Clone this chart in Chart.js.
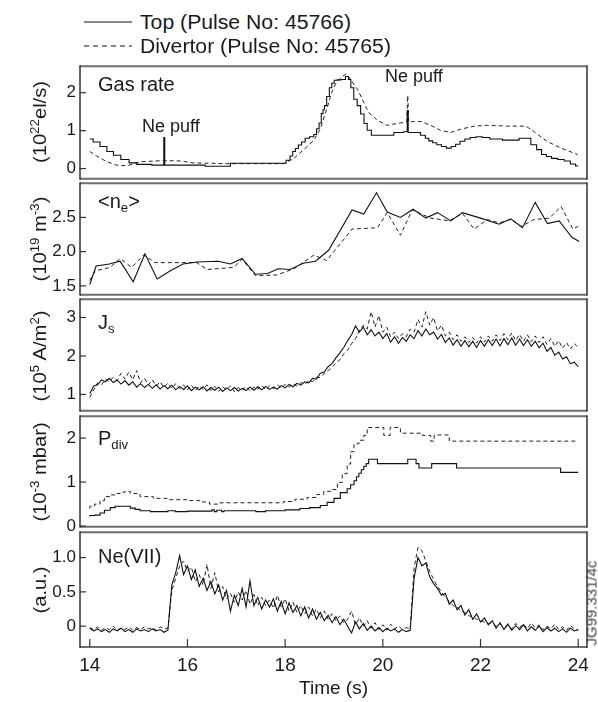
<!DOCTYPE html>
<html><head><meta charset="utf-8">
<script src="https://cdn.jsdelivr.net/npm/chart.js@4.4.1/dist/chart.umd.min.js"></script>
<style>
html,body{margin:0;padding:0;background:#fff;}
#wrap{position:relative;width:598px;height:702px;overflow:hidden;font-family:"Liberation Sans",Arial,Helvetica,sans-serif;color:#1a1a1a;}
.pane{position:absolute;left:0;width:598px;}
.txt{position:absolute;white-space:nowrap;line-height:1;transform:translateY(-50%);z-index:5;}
.leg{position:absolute;white-space:nowrap;line-height:1;transform:translateY(-50%) scaleX(1.06);transform-origin:0 50%;z-index:5;font-size:20px;}
.ytitle{position:absolute;white-space:nowrap;line-height:1;transform:translate(-50%,-50%) rotate(-90deg) scaleX(1.12);z-index:5;font-size:18px;}
sup{font-size:0.66em;vertical-align:0.6em;line-height:0;}
sub{font-size:0.66em;vertical-align:-0.3em;line-height:0;}
svg{position:absolute;z-index:5;overflow:visible;}
</style></head><body>
<div id="wrap">
  <svg style="left:84px;top:22px" width="48" height="2"><line x1="0" y1="0" x2="48" y2="0" stroke="#111" stroke-width="1.2"/></svg>
  <div class="leg" style="left:140px;top:22px">Top (Pulse No: 45766)</div>
  <svg style="left:84px;top:46px" width="48" height="2"><line x1="0" y1="0" x2="48" y2="0" stroke="#111" stroke-width="1.2" stroke-dasharray="5,4"/></svg>
  <div class="leg" style="left:140px;top:46px">Divertor (Pulse No: 45765)</div>

  <div class="pane" style="top:52px;height:141px"><canvas id="c1"></canvas></div>
  <div class="pane" style="top:169px;height:140px"><canvas id="c2"></canvas></div>
  <div class="pane" style="top:285px;height:140px"><canvas id="c3"></canvas></div>
  <div class="pane" style="top:402px;height:139px"><canvas id="c4"></canvas></div>
  <div class="pane" style="top:518px;height:184px"><canvas id="c5"></canvas></div>

  <div class="txt" style="left:98px;top:84px;font-size:20px">Gas rate</div>
  <div class="txt" style="left:142px;top:126px;font-size:18px">Ne puff</div>
  <div class="txt" style="left:385px;top:76px;font-size:18px">Ne puff</div>
  <div class="txt" style="left:98px;top:201px;font-size:20px">&lt;n<sub>e</sub>&gt;</div>
  <div class="txt" style="left:98px;top:322px;font-size:20px">J<sub>s</sub></div>
  <div class="txt" style="left:98px;top:438px;font-size:20px">P<sub>div</sub></div>
  <div class="txt" style="left:98px;top:556px;font-size:20px">Ne(VII)</div>

  <div class="ytitle" style="left:40px;top:122px">(10<sup>22</sup>el/s)</div>
  <div class="ytitle" style="left:40px;top:239px">(10<sup>19</sup> m<sup>-3</sup>)</div>
  <div class="ytitle" style="left:40px;top:356px">(10<sup>5</sup> A/m<sup>2</sup>)</div>
  <div class="ytitle" style="left:40px;top:472px">(10<sup>-3</sup> mbar)</div>
  <div class="ytitle" style="left:40px;top:590px">(a.u.)</div>
  <div class="ytitle" style="left:591px;top:603px;font-size:15px;color:#444;transform:translate(-50%,-50%) rotate(-90deg)">JG99.331/4c</div>
</div>
<script>
const FONT = '"Liberation Sans", Arial, Helvetica, sans-serif';

// ---- tick values ----
const timeTicks = [14, 16, 18, 20, 22, 24];
const gasTicks = [0, 1, 2];
const gasTickLabels = ['0', '1', '2'];
const neTicks = [1.5, 2.0, 2.5];
const neTickLabels = ['1.5', '2.0', '2.5'];
const jsTicks = [1, 2, 3];
const jsTickLabels = ['1', '2', '3'];
const pdivTicks = [0, 1, 2];
const pdivTickLabels = ['0', '1', '2'];
const ne7Ticks = [0, 0.5, 1.0];
const ne7TickLabels = ['0', '0.5', '1.0'];

// ---- Gas rate (10^22 el/s) ----
const gasTopTime = [14.00,14.14,14.28,14.42,14.55,14.72,14.89,15.03,15.51,15.52,15.55,16.26,16.47,16.81,16.95,17.97,18.07,18.13,18.18,18.24,18.30,18.37,18.45,18.55,18.62,18.67,18.72,18.76,18.79,18.82,18.88,18.93,18.98,19.03,19.10,19.20,19.27,19.32,19.37,19.44,19.51,19.58,19.65,19.71,19.82,20.09,20.36,20.49,20.51,20.53,20.70,20.84,20.90,20.98,21.06,21.15,21.25,21.35,21.45,21.53,21.63,21.73,21.85,21.97,22.10,22.28,22.62,22.96,23.10,23.20,23.30,23.40,23.51,23.65,23.78,23.90,23.99];
const gasTopVal = [0.78,0.70,0.58,0.45,0.35,0.24,0.15,0.11,0.09,0.82,0.09,0.09,0.06,0.06,0.14,0.14,0.22,0.33,0.45,0.53,0.62,0.70,0.80,0.84,0.90,1.05,1.20,1.45,1.55,1.66,1.90,2.13,2.25,2.33,2.34,2.35,2.43,2.35,2.13,1.83,1.66,1.44,1.19,1.01,0.88,0.88,0.95,0.97,1.53,0.95,0.95,0.88,0.80,0.73,0.68,0.63,0.58,0.54,0.58,0.64,0.72,0.78,0.82,0.84,0.82,0.78,0.75,0.80,0.63,0.50,0.37,0.32,0.27,0.24,0.20,0.12,0.07];
const gasDivTime = [14.00,14.14,14.35,14.55,14.76,15.03,15.51,15.85,16.12,16.81,17.97,18.18,18.45,18.59,18.72,18.86,18.95,19.05,19.17,19.26,19.34,19.48,19.58,19.71,19.89,20.09,20.30,20.49,20.51,20.53,20.64,20.78,20.98,21.18,21.39,21.60,21.87,22.14,22.55,22.93,23.10,23.37,23.65,23.99];
const gasDivVal = [0.45,0.33,0.18,0.09,0.07,0.18,0.21,0.20,0.15,0.13,0.13,0.27,0.58,0.75,1.05,1.60,2.00,2.28,2.43,2.50,2.35,2.09,1.83,1.48,1.27,1.14,1.19,1.23,1.93,1.23,1.24,1.24,1.14,1.01,0.95,1.04,1.12,1.14,1.12,1.12,0.97,0.71,0.54,0.37];

// ---- <ne> (10^19 m^-3) ----
const neTopTime = [14.00,14.13,14.40,14.62,14.89,15.13,15.38,15.65,15.91,16.20,16.63,16.88,17.12,17.39,17.64,17.86,18.10,18.37,18.62,18.89,19.37,19.61,19.87,20.09,20.36,20.62,20.88,21.12,21.39,21.63,22.00,22.38,22.62,22.86,23.12,23.37,23.61,23.87,24.02];
const neTopVal = [1.52,1.79,1.82,1.86,1.56,1.97,1.60,1.72,1.82,1.85,1.86,1.82,1.90,1.67,1.68,1.75,1.74,1.83,1.86,2.02,2.61,2.55,2.86,2.58,2.50,2.62,2.49,2.57,2.45,2.57,2.49,2.40,2.48,2.35,2.72,2.41,2.45,2.21,2.15];
const neDivTime = [14.00,14.11,14.42,14.62,14.86,15.10,15.34,16.19,16.40,16.95,17.12,17.39,17.83,18.18,18.59,18.85,19.37,19.89,20.09,20.36,20.60,20.98,21.36,21.63,21.87,22.14,22.38,22.62,22.83,23.10,23.41,23.65,23.89,24.00];
const neDivVal = [1.58,1.72,1.77,1.90,1.77,1.95,1.84,1.84,1.74,1.77,1.89,1.65,1.66,1.75,1.95,1.87,2.33,2.35,2.57,2.24,2.61,2.49,2.45,2.56,2.33,2.47,2.42,2.47,2.37,2.47,2.49,2.66,2.33,2.37];

// ---- Js (10^5 A/m^2), sampled every 0.08 s from 14.00 s ----
const jsStart = 14.0, jsStep = 0.08;
const jsTopVal = [
1.02,1.22,1.25,1.38,1.33,1.42,1.31,1.37,1.27,1.36,
1.24,1.33,1.19,1.28,1.18,1.26,1.16,1.25,1.14,1.23,
1.15,1.24,1.12,1.21,1.13,1.22,1.10,1.19,1.12,1.20,
1.09,1.18,1.11,1.19,1.08,1.17,1.10,1.18,1.09,1.16,
1.10,1.19,1.11,1.20,1.12,1.21,1.13,1.19,1.14,1.23,
1.17,1.26,1.20,1.29,1.24,1.33,1.30,1.42,1.40,1.55,
1.58,1.72,1.80,1.95,2.08,2.22,2.40,2.55,2.78,2.62,
2.75,2.55,2.68,2.52,2.62,2.45,2.58,2.36,2.50,2.33,
2.48,2.38,2.55,2.45,2.66,2.52,2.70,2.55,2.62,2.44,
2.56,2.35,2.47,2.28,2.42,2.25,2.40,2.24,2.38,2.22,
2.40,2.25,2.42,2.27,2.44,2.26,2.45,2.29,2.47,2.28,
2.44,2.27,2.42,2.25,2.38,2.21,2.33,2.12,2.22,2.02,
2.10,1.92,1.98,1.80,1.84,1.72];
const jsDivVal = [
0.92,1.12,1.30,1.25,1.40,1.33,1.45,1.36,1.55,1.40,
1.58,1.38,1.62,1.30,1.42,1.25,1.38,1.22,1.33,1.18,
1.30,1.16,1.28,1.15,1.25,1.12,1.24,1.10,1.22,1.13,
1.25,1.10,1.21,1.08,1.20,1.12,1.22,1.07,1.18,1.11,
1.21,1.09,1.19,1.13,1.24,1.12,1.22,1.15,1.25,1.17,
1.26,1.19,1.28,1.22,1.31,1.26,1.35,1.33,1.45,1.44,
1.55,1.62,1.70,1.82,1.90,2.05,2.15,2.32,2.45,2.65,
2.80,2.70,3.15,2.75,3.05,2.62,2.75,2.50,2.62,2.45,
2.58,2.50,2.70,2.62,2.95,2.75,3.15,2.80,3.00,2.65,
2.80,2.52,2.62,2.42,2.55,2.38,2.50,2.35,2.48,2.33,
2.50,2.36,2.52,2.38,2.55,2.40,2.58,2.42,2.60,2.40,
2.56,2.38,2.55,2.37,2.52,2.35,2.50,2.30,2.45,2.25,
2.40,2.20,2.35,2.18,2.32,2.22];

// ---- Pdiv (10^-3 mbar), step changes ----
const pdivTopTime = [14.00,14.10,14.21,14.30,14.42,14.52,14.62,14.83,14.93,15.03,15.24,15.60,15.75,16.00,16.50,16.55,16.60,16.70,16.75,17.40,17.60,18.00,18.30,18.50,18.72,18.86,19.00,19.13,19.27,19.34,19.41,19.46,19.51,19.56,19.61,19.66,19.71,19.89,20.51,20.68,20.74,21.00,21.51,23.64,23.85,24.00];
const pdivTopVal = [0.22,0.24,0.25,0.30,0.36,0.42,0.45,0.45,0.41,0.38,0.35,0.33,0.35,0.33,0.34,0.37,0.33,0.36,0.33,0.35,0.33,0.35,0.37,0.40,0.42,0.47,0.54,0.63,0.76,0.85,0.94,1.03,1.12,1.20,1.28,1.36,1.42,1.52,1.42,1.52,1.42,1.32,1.42,1.32,1.22,1.22];
const pdivDivTime = [14.00,14.10,14.21,14.30,14.42,14.52,14.62,14.72,14.83,15.03,15.30,15.58,16.00,16.26,16.45,16.67,17.30,17.97,18.20,18.45,18.65,18.79,18.93,19.07,19.17,19.27,19.34,19.41,19.51,19.61,19.68,20.02,20.15,20.36,20.81,20.98,21.05,21.36,23.75,24.00];
const pdivDivVal = [0.40,0.45,0.50,0.58,0.67,0.71,0.74,0.77,0.79,0.74,0.67,0.63,0.60,0.58,0.55,0.50,0.53,0.53,0.56,0.61,0.65,0.72,0.79,0.83,0.99,1.19,1.41,1.69,1.87,1.95,2.06,2.24,2.06,2.24,2.11,2.06,1.93,2.07,1.93,1.93];

// ---- Ne(VII) (a.u.), sampled every 0.08 s from 14.00 s ----
const ne7Start = 14.0, ne7Step = 0.08;
const ne7TopVal = [
-0.03,-0.07,-0.04,-0.08,-0.05,-0.09,-0.04,-0.07,-0.03,-0.08,
-0.05,-0.09,-0.04,-0.07,-0.05,-0.08,-0.04,-0.07,-0.05,-0.09,
-0.06,0.60,0.78,1.03,0.75,0.88,0.68,0.82,0.58,0.70,
0.52,0.65,0.47,0.60,0.38,0.52,0.22,0.45,0.30,0.55,
0.28,0.66,0.30,0.42,0.25,0.38,0.28,0.40,0.22,0.36,
0.18,0.34,0.20,0.30,0.15,0.28,0.12,0.25,0.10,0.20,
0.08,0.16,0.05,0.14,0.02,0.10,0.00,-0.10,0.06,-0.04,
0.04,-0.06,0.00,-0.07,-0.02,-0.08,-0.03,-0.07,-0.04,-0.09,
-0.05,-0.08,-0.06,0.70,1.00,0.88,0.92,0.72,0.62,0.55,
0.45,0.48,0.32,0.38,0.24,0.30,0.16,0.24,0.10,0.18,
0.06,0.12,0.02,0.08,-0.03,0.05,-0.05,0.03,-0.06,0.01,
-0.05,0.02,-0.07,-0.01,-0.06,0.00,-0.08,-0.02,-0.07,-0.03,
-0.08,-0.04,-0.09,-0.03,-0.07,-0.05];
const ne7DivVal = [
-0.02,-0.05,-0.01,-0.06,-0.02,-0.05,0.00,-0.06,-0.03,-0.05,
-0.01,-0.06,-0.02,-0.05,-0.01,-0.04,-0.02,-0.06,-0.01,-0.04,
-0.03,0.52,0.70,0.88,0.95,0.80,0.86,0.65,0.75,0.60,
0.90,0.55,0.78,0.50,0.58,0.40,0.48,0.35,0.50,0.38,
0.52,0.32,0.46,0.30,0.42,0.30,0.38,0.26,0.45,0.28,
0.40,0.22,0.35,0.20,0.30,0.18,0.28,0.15,0.25,0.12,
0.22,0.10,0.18,0.08,0.15,0.05,0.10,0.22,0.02,0.12,
0.00,0.08,-0.03,0.05,-0.05,0.02,-0.06,0.03,-0.04,0.00,
-0.05,-0.02,-0.04,0.85,1.15,1.10,0.95,0.80,0.68,0.58,
0.50,0.42,0.36,0.30,0.28,0.22,0.20,0.15,0.14,0.10,
0.08,0.06,0.04,0.05,0.00,0.03,-0.02,0.02,-0.04,0.04,
-0.02,0.03,-0.04,0.05,-0.03,0.02,-0.05,0.00,-0.04,0.03,
-0.05,-0.01,-0.06,0.01,-0.04,-0.06];

// ---- helpers ----
function pairs(t, v) { return t.map((x, i) => ({ x: x, y: v[i] })); }
function sampled(start, step, v) { return v.map((y, i) => ({ x: Math.round((start + i * step) * 100) / 100, y: y })); }

Chart.defaults.font.family = FONT;
Chart.defaults.color = '#1a1a1a';

const framePlugin = {
  id: 'frame',
  afterDatasetsDraw(chart) {
    const { ctx, chartArea: a } = chart;
    ctx.save();
    ctx.lineCap = 'butt';
    ctx.strokeStyle = '#6e6e6e'; ctx.lineWidth = 2;
    ctx.beginPath();
    ctx.moveTo(a.left, a.top); ctx.lineTo(a.right, a.top);
    ctx.moveTo(a.left, a.bottom); ctx.lineTo(a.right, a.bottom);
    ctx.stroke();
    ctx.strokeStyle = '#333'; ctx.lineWidth = 1.5;
    ctx.beginPath();
    ctx.moveTo(a.left, a.top - 1); ctx.lineTo(a.left, a.bottom + 1);
    ctx.moveTo(a.right, a.top - 1); ctx.lineTo(a.right, a.bottom + 1);
    ctx.stroke();
    const ys = chart.scales.y;
    ctx.strokeStyle = '#333'; ctx.lineWidth = 1.2;
    ys.ticks.forEach(t => {
      const py = ys.getPixelForValue(t.value);
      ctx.beginPath(); ctx.moveTo(a.left, py); ctx.lineTo(a.left + 6, py); ctx.stroke();
    });
    const xs = chart.scales.x;
    if (xs.options.display) {
      xs.ticks.forEach(t => {
        const px = xs.getPixelForValue(t.value);
        ctx.beginPath(); ctx.moveTo(px, a.bottom); ctx.lineTo(px, a.bottom - 8); ctx.stroke();
      });
    }
    ctx.restore();
  }
};

function makePanel(id, cfg) {
  return new Chart(document.getElementById(id), {
    type: 'line',
    data: {
      datasets: [
        { label: 'Top (Pulse No: 45766)', data: cfg.top, borderColor: '#111', borderWidth: 1.1, pointRadius: 0, fill: false, tension: 0, stepped: cfg.stepTop || false },
        { label: 'Divertor (Pulse No: 45765)', data: cfg.div, borderColor: '#222', borderWidth: 1, borderDash: [4, 3], pointRadius: 0, fill: false, tension: 0, stepped: cfg.stepDiv || false }
      ]
    },
    options: {
      responsive: true, maintainAspectRatio: false, animation: false, devicePixelRatio: 1,
      events: [],
      layout: { padding: { top: cfg.padTop, bottom: cfg.padBottom, left: 0, right: 11 } },
      plugins: { legend: { display: false }, tooltip: { enabled: false } },
      scales: {
        x: {
          type: 'linear', min: 13.8, max: 24.18, display: cfg.showX,
          grid: { display: false, drawTicks: false }, border: { display: false },
          afterBuildTicks: s => { s.ticks = timeTicks.map(v => ({ value: v })); },
          afterFit: s => { if (cfg.showX) s.height = cfg.xHeight; },
          ticks: { padding: 7, font: { size: 19 }, color: '#1a1a1a', maxRotation: 0, autoSkip: false, callback: v => String(v) },
          title: { display: cfg.showX, text: 'Time (s)', font: { size: 19 }, color: '#1a1a1a', padding: { top: 0, bottom: 2 } }
        },
        y: {
          type: 'linear', min: cfg.min, max: cfg.max,
          grid: { display: false, drawTicks: false }, border: { display: false },
          afterBuildTicks: s => { s.ticks = cfg.ticks.map(v => ({ value: v })); },
          afterFit: s => { s.width = 80; },
          ticks: { padding: 4, font: { size: 17 }, color: '#1a1a1a', autoSkip: false, callback: (v, i) => cfg.tickLabels[i] }
        }
      }
    },
    plugins: [framePlugin]
  });
}

makePanel('c1', { top: pairs(gasTopTime, gasTopVal), div: pairs(gasDivTime, gasDivVal), stepTop: 'middle',
  min: -0.27, max: 2.70, ticks: gasTicks, tickLabels: gasTickLabels, padTop: 12, padBottom: 12, showX: false });
makePanel('c2', { top: pairs(neTopTime, neTopVal), div: pairs(neDivTime, neDivVal),
  min: 1.37, max: 3.0, ticks: neTicks, tickLabels: neTickLabels, padTop: 12, padBottom: 12, showX: false });
makePanel('c3', { top: sampled(jsStart, jsStep, jsTopVal), div: sampled(jsStart, jsStep, jsDivVal),
  min: 0.575, max: 3.475, ticks: jsTicks, tickLabels: jsTickLabels, padTop: 12, padBottom: 12, showX: false });
makePanel('c4', { top: pairs(pdivTopTime, pdivTopVal), div: pairs(pdivDivTime, pdivDivVal), stepTop: 'after', stepDiv: 'after',
  min: -0.015, max: 2.496, ticks: pdivTicks, tickLabels: pdivTickLabels, padTop: 12, padBottom: 12, showX: false });
makePanel('c5', { top: sampled(ne7Start, ne7Step, ne7TopVal), div: sampled(ne7Start, ne7Step, ne7DivVal),
  min: -0.304, max: 1.37, ticks: ne7Ticks, tickLabels: ne7TickLabels, padTop: 12, padBottom: 0, showX: true, xHeight: 55 });
</script>
</body></html>
